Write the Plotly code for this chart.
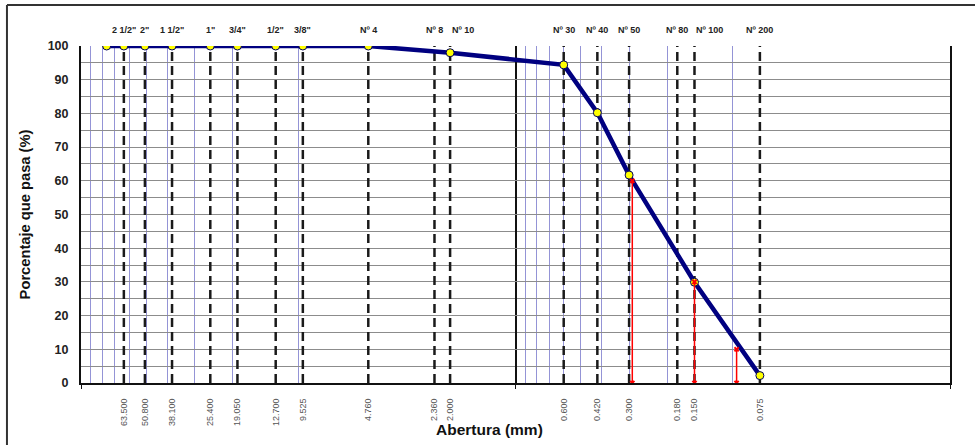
import numpy as np
import plotly.graph_objects as go

# ---- data ----
sieve_names = ['2 1/2"', '2"', '1 1/2"', '1"', '3/4"', '1/2"', '3/8"', 'Nº 4', 'Nº 8', 'Nº 10',
               'Nº 30', 'Nº 40', 'Nº 50', 'Nº 80', 'Nº 100', 'Nº 200']
sieve_sizes = [63.5, 50.8, 38.1, 25.4, 19.05, 12.7, 9.525, 4.76, 2.36, 2.0,
               0.6, 0.42, 0.3, 0.18, 0.15, 0.075]
sieve_labels = ["63.500", "50.800", "38.100", "25.400", "19.050", "12.700", "9.525", "4.760",
                "2.360", "2.000", "0.600", "0.420", "0.300", "0.180", "0.150", "0.075"]
# horizontal nudge of crowded top labels (px)
name_shift = [0, 0, 0, 0, 0, 0, 0, 0, 0, 13, 0, 0, 0, 0, 15, 0]

curve_sizes = [76.2, 63.5, 50.8, 38.1, 25.4, 19.05, 12.7, 9.525, 4.76, 2.0, 0.6, 0.42, 0.3, 0.15, 0.075]
curve_pass = [100, 100, 100, 100, 100, 100, 100, 100, 100, 98.0, 94.4, 80.2, 61.7, 29.9, 2.2]

d_sizes = [0.29, 0.15, 0.096]   # D60, D30, D10
d_pass = [60, 30, 10]

major_x = [100, 1, 0.01]
minor_x = [90, 80, 70, 60, 50, 40, 30, 20, 10, 0.9, 0.8, 0.7, 0.6, 0.5, 0.4, 0.3, 0.2, 0.1]

FONT = "Liberation Sans, Arial, sans-serif"

fig = go.Figure()

# dashed sieve lines
dx, dy = [], []
for s in sieve_sizes:
    dx += [s, s, None]
    dy += [0, 100, None]
fig.add_trace(go.Scatter(x=dx, y=dy, mode="lines", line=dict(color="#1a1a1a", width=2.5, dash="9px,5px"),
                         hoverinfo="skip", showlegend=False))

# grading curve
fig.add_trace(go.Scatter(x=curve_sizes, y=curve_pass, mode="lines+markers",
                         line=dict(color="#000080", width=4.5),
                         marker=dict(symbol="circle", size=8, color="#ffff00",
                                     line=dict(color="#000060", width=1)),
                         showlegend=False))

# D60/D30/D10 red lines
rx, ry = [], []
for s, p in zip(d_sizes, d_pass):
    rx += [s, s, None]
    ry += [0, p, None]
fig.add_trace(go.Scatter(x=rx, y=ry, mode="lines+markers", line=dict(color="#ff0000", width=1.5),
                         marker=dict(symbol="x", size=5, color="#ff0000"),
                         showlegend=False))

axis_range = [np.log10(100), np.log10(0.01)]

annotations = [dict(text="Abertura (mm)", xref="paper", yref="paper", x=0.47, y=-0.139,
                    showarrow=False, xanchor="center", yanchor="middle",
                    font=dict(size=15.5, color="#111", family=FONT, weight="bold"))]
for name, s, sh in zip(sieve_names, sieve_sizes, name_shift):
    annotations.append(dict(text=name, xref="x", yref="paper", x=np.log10(s), y=1.047,
                            xshift=sh, showarrow=False, xanchor="center", yanchor="middle",
                            font=dict(size=9, color="#222", family=FONT, weight="bold")))

fig.update_layout(
    width=975, height=445,
    margin=dict(l=81, r=25, t=46, b=62),
    paper_bgcolor="white", plot_bgcolor="white",
    font=dict(family=FONT, color="#222"),
    xaxis=dict(type="log", range=axis_range, tickvals=major_x, ticktext=["", "", ""],
               showgrid=True, gridcolor="#111", gridwidth=1.5,
               ticks="outside", ticklen=4, tickcolor="#111", tickwidth=1,
               showline=True, linecolor="#111", linewidth=1.5, zeroline=False,
               minor=dict(tickvals=minor_x, showgrid=True, gridcolor="#9494d6", gridwidth=1, ticks="")),
    xaxis3=dict(type="log", range=axis_range, overlaying="x", side="bottom", anchor="y",
                tickvals=sieve_sizes, ticktext=sieve_labels, tickangle=-90, showgrid=False, zeroline=False,
                ticks="outside", ticklen=11, tickcolor="rgba(0,0,0,0)",
                tickfont=dict(size=9, color="#555")),
    yaxis=dict(range=[0, 100], tick0=0, dtick=10, showgrid=True, gridcolor="#8c8c8c", gridwidth=1,
               minor=dict(dtick=5, showgrid=True, gridcolor="#8c8c8c", gridwidth=1),
               showline=True, linecolor="#111", linewidth=2, mirror=True, zeroline=False,
               ticks="outside", ticklen=8, tickcolor="rgba(0,0,0,0)",
               tickfont=dict(size=12.5, color="#222", weight="bold"),
               title=dict(text="Porcentaje que pasa (%)", standoff=13,
                          font=dict(size=14.7, color="#111", weight="bold"))),
    annotations=annotations,
    shapes=[
        dict(type="line", xref="paper", yref="paper", x0=-0.0852, x1=1.06, y0=1.1217, y1=1.1217,
             line=dict(color="#333", width=2)),
        dict(type="line", xref="paper", yref="paper", x0=-0.0852, x1=-0.0852, y0=1.1217, y1=-0.25,
             line=dict(color="#333", width=2)),
    ],
)

# invisible trace so the label-only axis renders
fig.add_trace(go.Scatter(x=[1], y=[50], xaxis="x3", mode="markers", marker=dict(opacity=0),
                         hoverinfo="skip", showlegend=False))

fig.write_html("out.html")
